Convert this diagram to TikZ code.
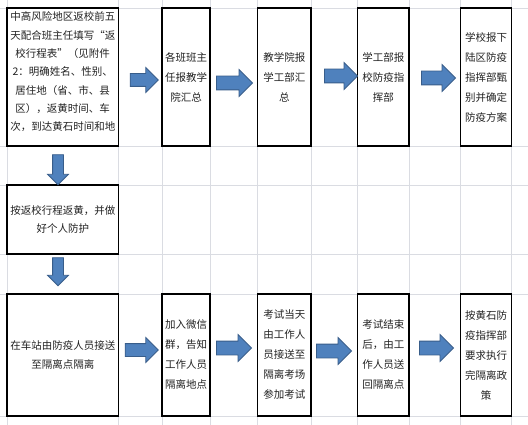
\documentclass[tikz,border=0pt]{standalone}
\usepackage{fontspec}
\newfontfamily\cjk{Noto Sans CJK SC}
\usetikzlibrary{shapes.arrows}
\definecolor{gridc}{RGB}{218,220,226}
\definecolor{arrfill}{RGB}{79,129,189}
\definecolor{arredge}{RGB}{56,93,138}
\definecolor{txt}{RGB}{35,35,35}
\begin{document}
\begin{tikzpicture}[x=1pt,y=-1pt,
  box/.style={draw=black, line width=1.2pt, fill=white, inner sep=0pt, align=center, text=txt},
  wtext/.style={font=\cjk\fontsize{10.5}{18.3}\selectfont},
  ntext/.style={font=\cjk\fontsize{10.5}{20}\selectfont},
  blockarrow/.style={single arrow, fill=arrfill, draw=arredge, line width=0.8pt,
    single arrow tip angle=90, inner xsep=0pt, inner ysep=#1, single arrow head extend=#1},
  blockarrow/.default=6.5pt
]
\fill[white] (0,0) rectangle (528,425);
\useasboundingbox (0,0) rectangle (528,425);
% spreadsheet grid
\foreach \gx in {7,118.5,162,210,257.5,311,357.5,409,460.5,511.5}
  \draw[gridc, line width=0.8pt] (\gx,0) -- (\gx,425);
\foreach \gy in {8,146,185,254,294,416}
  \draw[gridc, line width=0.8pt] (0,\gy) -- (528,\gy);
% row 1
\node[box, wtext, minimum width=111.5pt, minimum height=138pt] (a1) at (62.75,77) {};
\node[wtext, text=txt, align=center, inner sep=0pt] (ta1) at (62.75,72) {中高风险地区返校前五\\天配合班主任填写“返\\校行程表”（见附件\\2：明确姓名、性别、\\居住地（省、市、县\\区），返黄时间、车\\次，到达黄石时间和地};
\node[box, ntext, minimum width=48pt, minimum height=138pt] (b1) at (186,77) {各班班主\\任报教学\\院汇总};
\node[box, ntext, minimum width=53.5pt, minimum height=138pt] (c1) at (284.25,77) {教学院报\\学工部汇\\总};
\node[box, ntext, minimum width=51.5pt, minimum height=138pt] (d1) at (383.25,77) {学工部报\\校防疫指\\挥部};
\node[box, ntext, minimum width=51pt, minimum height=138pt] (e1) at (486,77) {学校报下\\陆区防疫\\指挥部甄\\别并确定\\防疫方案};
% row 2
\node[box, wtext, minimum width=111.5pt, minimum height=69pt] (a2) at (62.75,219.5) {按返校行程返黄，并做\\好个人防护};
% row 3
\node[box, wtext, minimum width=111.5pt, minimum height=122pt] (a3) at (62.75,355) {在车站由防疫人员接送\\至隔离点隔离};
\node[box, ntext, minimum width=48pt, minimum height=122pt] (b3) at (186,355) {加入微信\\群，告知\\工作人员\\隔离地点};
\node[box, ntext, minimum width=53.5pt, minimum height=122pt] (c3) at (284.25,355) {考试当天\\由工作人\\员接送至\\隔离考场\\参加考试};
\node[box, ntext, minimum width=51.5pt, minimum height=122pt] (d3) at (383.25,355) {考试结束\\后，由工\\作人员送\\回隔离点};
\node[box, ntext, minimum width=51pt, minimum height=122pt] (e3) at (486,355) {按黄石防\\疫指挥部\\要求执行\\完隔离政\\策};
% block arrows
\node[blockarrow=6pt, minimum height=28pt] (r1) at (141,80) {};
\node[blockarrow, minimum height=36pt] (r2) at (231,83) {};
\node[blockarrow, minimum height=33pt] (r3) at (337.5,76) {};
\node[blockarrow, minimum height=34pt] (r4) at (435,78) {};
\node[blockarrow=6pt, minimum height=33pt] (r5) at (138.5,350) {};
\node[blockarrow, minimum height=35pt] (r6) at (230.5,348) {};
\node[blockarrow, minimum height=35pt] (r7) at (330.5,351) {};
\node[blockarrow, minimum height=34pt] (r8) at (433,348) {};
\node[blockarrow=5pt, minimum height=30pt, rotate=-90] (d1a) at (58,167) {};
\node[blockarrow=5pt, minimum height=28pt, rotate=-90] (d2a) at (58,269) {};
\end{tikzpicture}
\end{document}
